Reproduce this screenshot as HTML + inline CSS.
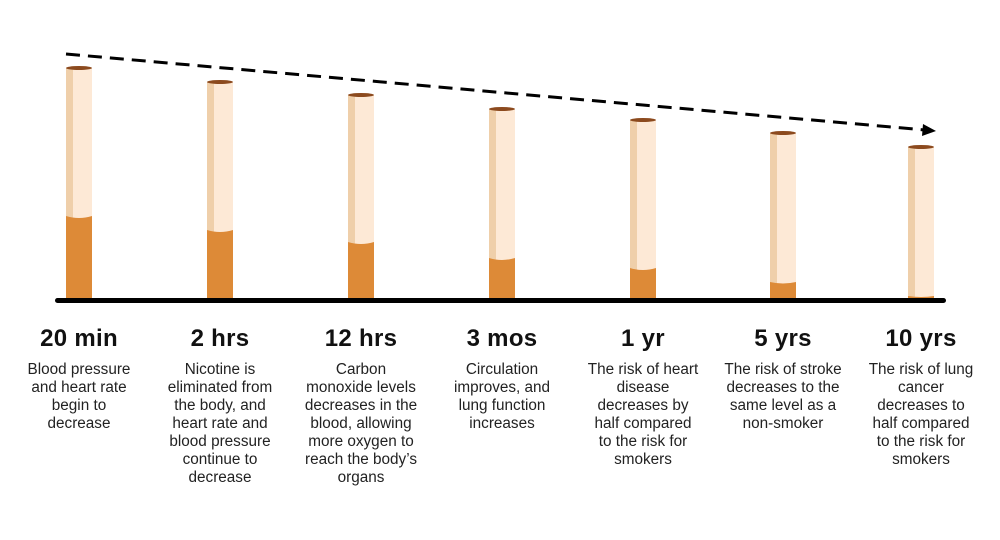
<!DOCTYPE html>
<html><head><meta charset="utf-8"><style>
body{margin:0;background:#fff;width:1000px;height:540px;overflow:hidden;font-family:"Liberation Sans",sans-serif}
.col{position:absolute;width:160px;text-align:center;color:#111}
.t{position:absolute;top:325px;font-weight:bold;font-size:24px;letter-spacing:0.3px}
.d{position:absolute;top:361px;font-size:15.3px;line-height:18px;color:#222}
</style></head><body>
<svg width="1000" height="540" style="position:absolute;left:0;top:0">
<g>
<rect x="66" y="68" width="26" height="232" fill="#fde9d6"/><rect x="66" y="68" width="7" height="232" fill="#efcfaa"/>
<path d="M66 216 Q79 220 92 216 L92 300 L66 300Z" fill="#dd8a37"/><ellipse cx="79" cy="68" rx="13" ry="2" fill="#8c4a1e"/>
<rect x="207" y="82" width="26" height="218" fill="#fde9d6"/><rect x="207" y="82" width="7" height="218" fill="#efcfaa"/>
<path d="M207 230 Q220 234 233 230 L233 300 L207 300Z" fill="#dd8a37"/><ellipse cx="220" cy="82" rx="13" ry="2" fill="#8c4a1e"/>
<rect x="348" y="95" width="26" height="205" fill="#fde9d6"/><rect x="348" y="95" width="7" height="205" fill="#efcfaa"/>
<path d="M348 242 Q361 246 374 242 L374 300 L348 300Z" fill="#dd8a37"/><ellipse cx="361" cy="95" rx="13" ry="2" fill="#8c4a1e"/>
<rect x="489" y="109" width="26" height="191" fill="#fde9d6"/><rect x="489" y="109" width="7" height="191" fill="#efcfaa"/>
<path d="M489 258 Q502 262 515 258 L515 300 L489 300Z" fill="#dd8a37"/><ellipse cx="502" cy="109" rx="13" ry="2" fill="#8c4a1e"/>
<rect x="630" y="120" width="26" height="180" fill="#fde9d6"/><rect x="630" y="120" width="7" height="180" fill="#efcfaa"/>
<path d="M630 268 Q643 272 656 268 L656 300 L630 300Z" fill="#dd8a37"/><ellipse cx="643" cy="120" rx="13" ry="2" fill="#8c4a1e"/>
<rect x="770" y="133" width="26" height="167" fill="#fde9d6"/><rect x="770" y="133" width="7" height="167" fill="#efcfaa"/>
<path d="M770 282 Q783 285 796 282 L796 300 L770 300Z" fill="#dd8a37"/><ellipse cx="783" cy="133" rx="13" ry="2" fill="#8c4a1e"/>
<rect x="908" y="147" width="26" height="153" fill="#fde9d6"/><rect x="908" y="147" width="7" height="153" fill="#efcfaa"/>
<path d="M908 296 Q921 298 934 296 L934 300 L908 300Z" fill="#dd8a37"/><ellipse cx="921" cy="147" rx="13" ry="2" fill="#8c4a1e"/>
</g>
<line x1="66" y1="54" x2="925" y2="130" stroke="#000" stroke-width="3" stroke-dasharray="14,8"/>
<polygon points="936,131 923,124 922,136" fill="#000"/>
<rect x="55" y="298" width="891" height="5" rx="2.5" fill="#000"/>
</svg>
<div class="col t" style="left:-1px">20 min</div>
<div class="col t" style="left:140px">2 hrs</div>
<div class="col t" style="left:281px">12 hrs</div>
<div class="col t" style="left:422px">3 mos</div>
<div class="col t" style="left:563px">1 yr</div>
<div class="col t" style="left:703px">5 yrs</div>
<div class="col t" style="left:841px">10 yrs</div>
<div class="col d" style="left:-1px">Blood pressure<br>and heart rate<br>begin to<br>decrease</div>
<div class="col d" style="left:140px">Nicotine is<br>eliminated from<br>the body, and<br>heart rate and<br>blood pressure<br>continue to<br>decrease</div>
<div class="col d" style="left:281px">Carbon<br>monoxide levels<br>decreases in the<br>blood, allowing<br>more oxygen to<br>reach the body’s<br>organs</div>
<div class="col d" style="left:422px">Circulation<br>improves, and<br>lung function<br>increases</div>
<div class="col d" style="left:563px">The risk of heart<br>disease<br>decreases by<br>half compared<br>to the risk for<br>smokers</div>
<div class="col d" style="left:703px">The risk of stroke<br>decreases to the<br>same level as a<br>non-smoker</div>
<div class="col d" style="left:841px">The risk of lung<br>cancer<br>decreases to<br>half compared<br>to the risk for<br>smokers</div>
</body></html>
